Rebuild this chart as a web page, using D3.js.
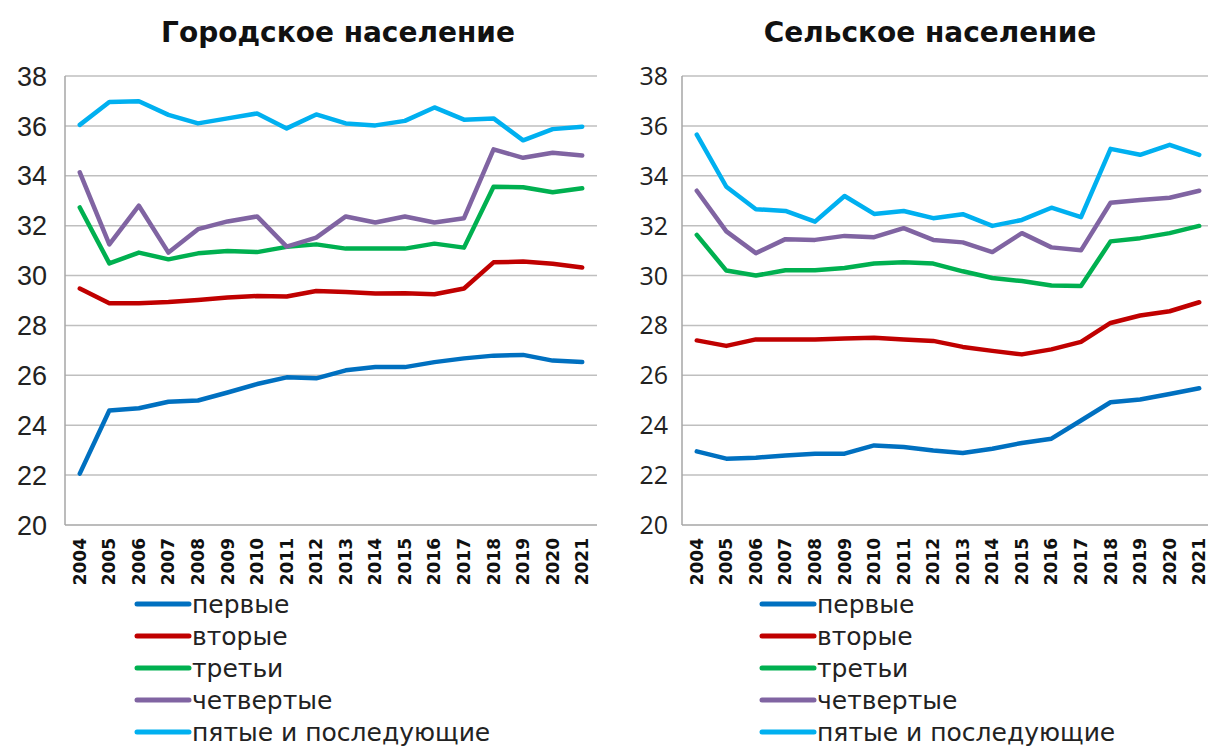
<!DOCTYPE html>
<html>
<head>
<meta charset="utf-8">
<script src="https://cdn.jsdelivr.net/npm/d3@7"></script>
<style>
  body { margin: 0; background: #fff; }
  svg { display: block; }
</style>
</head>
<body>
<svg id="chart" width="1208" height="747"></svg>
<script>
// anni
var anni = ['2004','2005','2006','2007','2008','2009','2010','2011','2012','2013',
            '2014','2015','2016','2017','2018','2019','2020','2021'];

var serie = ['первые', 'вторые', 'третьи', 'четвертые', 'пятые и последующие'];
var colori = ['#0070C0', '#C00000', '#00B050', '#8064A2', '#00B0F0'];
var tickY = [20, 22, 24, 26, 28, 30, 32, 34, 36, 38];

// городское население
var cittaPrimi   = [22.06, 24.59, 24.68, 24.94, 24.99, 25.31, 25.65, 25.92, 25.88, 26.2, 26.33, 26.33, 26.53, 26.68, 26.79, 26.82, 26.59, 26.53];
var cittaSecondi = [29.48, 28.89, 28.89, 28.94, 29.02, 29.12, 29.18, 29.16, 29.38, 29.34, 29.28, 29.29, 29.25, 29.48, 30.53, 30.56, 30.47, 30.32];
var cittaTerzi   = [32.73, 30.49, 30.92, 30.65, 30.89, 30.98, 30.94, 31.15, 31.25, 31.08, 31.08, 31.08, 31.28, 31.12, 33.56, 33.54, 33.34, 33.5];
var cittaQuarti  = [34.14, 31.25, 32.8, 30.92, 31.86, 32.17, 32.37, 31.16, 31.52, 32.37, 32.13, 32.37, 32.13, 32.3, 35.06, 34.72, 34.92, 34.81];
var cittaQuinti  = [36.04, 36.96, 36.99, 36.44, 36.1, 36.3, 36.5, 35.9, 36.46, 36.1, 36.02, 36.2, 36.74, 36.25, 36.3, 35.42, 35.87, 35.97];

// сельское население
var campagnaPrimi   = [22.95, 22.66, 22.7, 22.79, 22.86, 22.86, 23.19, 23.13, 22.99, 22.89, 23.06, 23.29, 23.46, 24.19, 24.92, 25.03, 25.25, 25.48];
var campagnaSecondi = [27.4, 27.18, 27.44, 27.44, 27.44, 27.48, 27.51, 27.44, 27.38, 27.14, 26.98, 26.84, 27.04, 27.34, 28.1, 28.4, 28.57, 28.93];
var campagnaTerzi   = [31.63, 30.2, 30.0, 30.21, 30.21, 30.3, 30.48, 30.53, 30.48, 30.17, 29.9, 29.78, 29.6, 29.58, 31.37, 31.5, 31.7, 31.99];
var campagnaQuarti  = [33.4, 31.77, 30.9, 31.46, 31.43, 31.59, 31.54, 31.9, 31.43, 31.33, 30.94, 31.7, 31.13, 31.01, 32.92, 33.03, 33.12, 33.4];
var campagnaQuinti  = [35.65, 33.56, 32.66, 32.59, 32.16, 33.19, 32.47, 32.59, 32.3, 32.46, 31.99, 32.23, 32.72, 32.34, 35.08, 34.84, 35.24, 34.84];

var svg = d3.select('#chart');
var fontTitolo = "'DejaVu Sans', sans-serif";
var fontTesto = "'DejaVu Sans', sans-serif";

//funzione che disegna un pannello
function disegnaPannello(p) {
    var x = d3.scaleBand().domain(anni).range([p.x0, p.x1]).padding(0);
    var y = d3.scaleLinear().domain([20, 38]).range([525, 76]);
    var cx = function(a) { return x(a) + x.bandwidth() / 2; };

    var g = svg.append('g');

    // titolo
    g.append('text')
        .attr('x', p.titoloX)
        .attr('y', 42)
        .attr('text-anchor', 'middle')
        .style('font-family', fontTitolo)
        .style('font-weight', 'bold')
        .style('font-size', '28px')
        .style('fill', '#111')
        .text(p.titolo);

    // griglia
    g.selectAll('.griglia')
        .data(tickY.filter(function(d) { return d > 20; }))
        .enter().append('line')
        .attr('x1', p.x0).attr('x2', p.x1)
        .attr('y1', function(d) { return y(d); })
        .attr('y2', function(d) { return y(d); })
        .style('stroke', '#BFBFBF')
        .style('stroke-width', 1.5);

    // assi
    g.append('line')
        .attr('x1', p.x0).attr('x2', p.x0)
        .attr('y1', y(38)).attr('y2', y(20))
        .style('stroke', '#A6A6A6').style('stroke-width', 1.5);
    g.append('line')
        .attr('x1', p.x0).attr('x2', p.x1)
        .attr('y1', y(20)).attr('y2', y(20))
        .style('stroke', '#A6A6A6').style('stroke-width', 1.5);

    // etichette asse y
    g.selectAll('.tickY')
        .data(tickY)
        .enter().append('text')
        .attr('x', p.x0 - p.gapY)
        .attr('y', function(d) { return y(d); })
        .attr('dy', '.36em')
        .attr('text-anchor', 'end')
        .style('font-family', p.fontY)
        .style('font-size', p.sizeY)
        .style('fill', '#222')
        .text(function(d) { return d; });

    // etichette asse x
    g.selectAll('.tickX')
        .data(anni)
        .enter().append('text')
        .attr('transform', function(d) { return 'translate(' + (cx(d) + 6) + ',538) rotate(-90)'; })
        .attr('text-anchor', 'end')
        .style('font-family', fontTesto)
        .style('font-weight', 'bold')
        .style('font-size', '17px')
        .style('fill', '#111')
        .text(function(d) { return d; });

    // linee
    var linea = d3.line()
        .x(function(d, i) { return cx(anni[i]); })
        .y(function(d) { return y(d); });

    g.selectAll('.serie')
        .data(p.valori)
        .enter().append('path')
        .attr('d', function(d) { return linea(d); })
        .style('fill', 'none')
        .style('stroke', function(d, i) { return colori[i]; })
        .style('stroke-width', 4.5)
        .style('stroke-linejoin', 'round')
        .style('stroke-linecap', 'round');

    // legenda
    var leg = g.selectAll('.legenda')
        .data(serie)
        .enter().append('g')
        .attr('transform', function(d, i) { return 'translate(' + p.legX + ',' + (604 + i * 32) + ')'; });

    leg.append('line')
        .attr('x1', 0).attr('x2', 52)
        .attr('y1', 0).attr('y2', 0)
        .style('stroke', function(d, i) { return colori[i]; })
        .style('stroke-width', 5)
        .style('stroke-linecap', 'round');

    leg.append('text')
        .attr('x', 55)
        .attr('y', 0)
        .attr('dy', '.35em')
        .style('font-family', fontTesto)
        .style('font-size', '25px')
        .style('fill', '#222')
        .text(function(d) { return d; });
}

disegnaPannello({
    titolo: 'Городское население',
    titoloX: 338,
    x0: 65, x1: 597,
    legX: 137,
    fontY: "'Liberation Sans', sans-serif",
    sizeY: '27px',
    gapY: 18,
    valori: [cittaPrimi, cittaSecondi, cittaTerzi, cittaQuarti, cittaQuinti]
});

disegnaPannello({
    titolo: 'Сельское население',
    titoloX: 930,
    x0: 682, x1: 1214,
    legX: 762,
    fontY: "'Open Sans', sans-serif",
    sizeY: '25px',
    gapY: 14,
    valori: [campagnaPrimi, campagnaSecondi, campagnaTerzi, campagnaQuarti, campagnaQuinti]
});
</script>
</body>
</html>
